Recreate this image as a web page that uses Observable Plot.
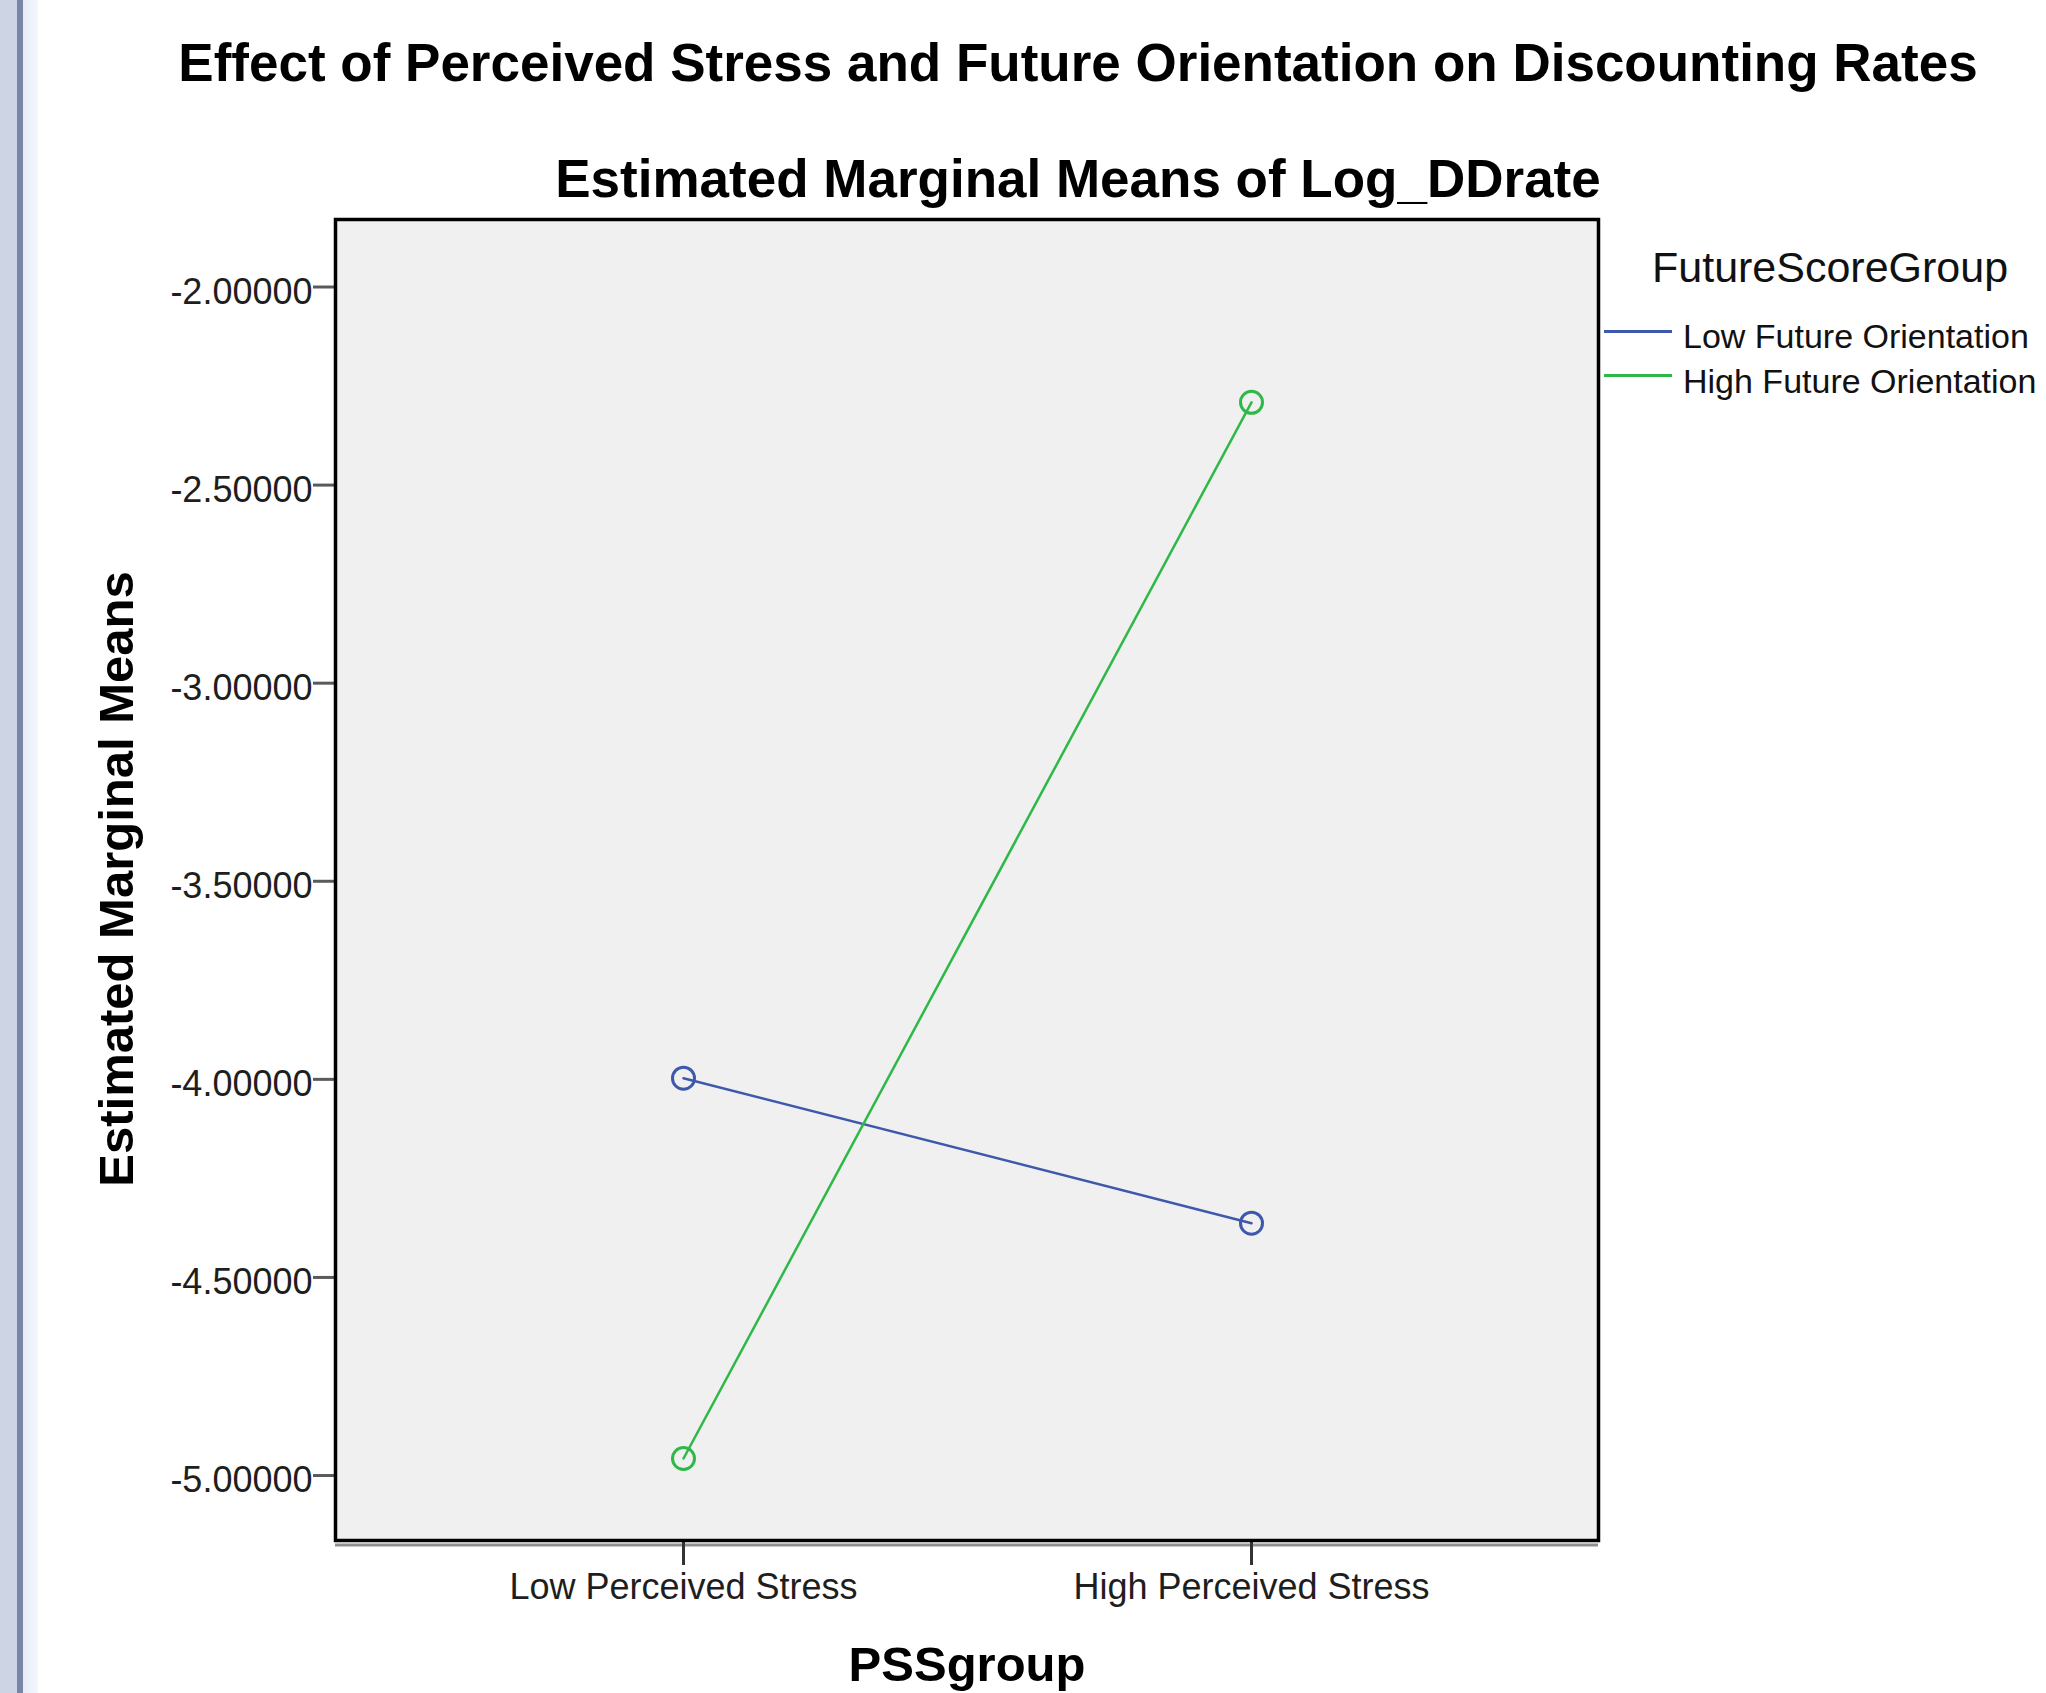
<!DOCTYPE html>
<html>
<head>
<meta charset="utf-8">
<script src="https://cdn.jsdelivr.net/npm/d3@7"></script>
<script src="https://cdn.jsdelivr.net/npm/@observablehq/plot@0.6"></script>
<style>
  html, body { margin: 0; padding: 0; background: #fff; overflow: hidden; }
  #page { position: relative; width: 2046px; height: 1693px; font-family: "Liberation Sans", Arial, sans-serif; color: #111; }
  #page svg { position: absolute; left: 0; top: 0; }
  .t { position: absolute; white-space: nowrap; line-height: 1; }
  .bold { font-weight: bold; color: #000; }
  .stripe { position: absolute; top: 0; height: 1693px; }
  .swatch { position: absolute; height: 3px; }
</style>
</head>
<body>
<div id="page">
  <div class="stripe" style="left:0;width:17px;background:#cdd4e3;"></div>
  <div class="stripe" style="left:17px;width:6px;background:#7884a8;"></div>
  <div class="stripe" style="left:23px;width:15px;background:linear-gradient(to right,#e6ebf6,#f5f7fc);"></div>
</div>
<script>
// ---- data ----
const pssGroups = ["Low Perceived Stress", "High Perceived Stress"];
const futureGroups = ["Low Future Orientation", "High Future Orientation"];
const lowFutureMeans = [-3.997, -4.363];
const highFutureMeans = [-4.957, -2.291];
const yTicks = [-2.0, -2.5, -3.0, -3.5, -4.0, -4.5, -5.0];
const yDomain = [-5.164, -1.8296];
const seriesColors = ["#3E58AC", "#2EB848"];

const chartTitle = "Effect of Perceived Stress and Future Orientation on Discounting Rates";
const chartSubtitle = "Estimated Marginal Means of Log_DDrate";
const yLabel = "Estimated Marginal Means";
const xLabel = "PSSgroup";
const legendTitle = "FutureScoreGroup";

const rows = [];
pssGroups.forEach((g, i) => {
  rows.push({pss: g, group: futureGroups[0], value: lowFutureMeans[i]});
  rows.push({pss: g, group: futureGroups[1], value: highFutureMeans[i]});
});

const W = 2046, H = 1693;
const chart = Plot.plot({
  width: W,
  height: H,
  marginLeft: 335,
  marginRight: 448,
  marginTop: 219,
  marginBottom: 153,
  style: {fontFamily: '"Liberation Sans", Arial, sans-serif', fontSize: "36px", background: "transparent", overflow: "visible", color: "#1e1e1e"},
  x: {type: "point", domain: pssGroups, padding: 0.61},
  y: {domain: yDomain},
  color: {domain: futureGroups, range: seriesColors},
  marks: [
    Plot.frame({fill: "#f0f0f0"}),
    Plot.ruleY([yDomain[0]], {stroke: "#8f8f8f", strokeWidth: 3, dy: 4.5}),
    Plot.axisY(yTicks, {tickSize: 22, tickFormat: () => "", stroke: "#5a5a5a", strokeWidth: 3, label: null}),
    Plot.axisY(yTicks, {tickSize: 0, tickPadding: 23, dy: 5, tickFormat: d => d.toFixed(5), fill: "#1e1e1e", fontSize: 36, label: null}),
    Plot.axisX(pssGroups, {tickSize: 25, tickFormat: () => "", stroke: "#333", strokeWidth: 3, label: null}),
    Plot.axisX(pssGroups, {tickSize: 0, tickPadding: 33, fill: "#1e1e1e", fontSize: 36, label: null}),
    Plot.line(rows, {x: "pss", y: "value", z: "group", stroke: "group", strokeWidth: 2.5}),
    Plot.dot(rows, {x: "pss", y: "value", stroke: "group", fill: "none", r: 11, strokeWidth: 3}),
    Plot.frame({stroke: "#000", strokeWidth: 3.5})
  ]
});

const page = document.getElementById("page");
page.appendChild(chart);

function addText(txt, cls, style) {
  const d = document.createElement("div");
  d.className = "t " + cls;
  d.textContent = txt;
  Object.assign(d.style, style);
  page.appendChild(d);
  return d;
}
// titles (line-height 1 => baseline ≈ top + 0.8465em)
addText(chartTitle, "bold", {fontSize: "53px", left: "1078px", top: "36px", transform: "translateX(-50%)"});
addText(chartSubtitle, "bold", {fontSize: "53px", left: "1078px", top: "152px", transform: "translateX(-50%)"});
addText(xLabel, "bold", {fontSize: "49px", left: "967px", top: "1640px", transform: "translateX(-50%)"});
addText(yLabel, "bold", {fontSize: "49px", left: "116px", top: "879px", transform: "translate(-50%,-50%) rotate(-90deg)"});

// legend
addText(legendTitle, "", {fontSize: "43px", left: "1652px", top: "246px", color: "#111"});
const legendTops = [319, 364];
const swatchY = [329.5, 373.5];
futureGroups.forEach((g, i) => {
  addText(g, "", {fontSize: "34px", left: "1683px", top: legendTops[i] + "px", color: "#111"});
  const s = document.createElement("div");
  s.className = "swatch";
  Object.assign(s.style, {left: "1604px", width: "68px", top: swatchY[i] + "px", background: seriesColors[i]});
  page.appendChild(s);
});
</script>
</body>
</html>
